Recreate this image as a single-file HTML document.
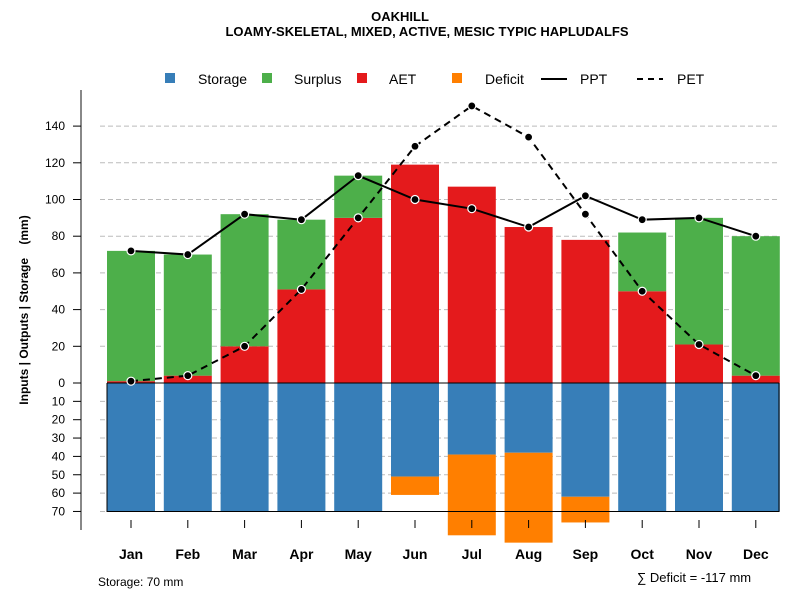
<!DOCTYPE html>
<html><head><meta charset="utf-8"><style>
body{margin:0;background:#fff}
svg text{font-family:"Liberation Sans",sans-serif}
</style></head><body>
<svg id="c" width="800" height="600" xmlns="http://www.w3.org/2000/svg">
<text x="400" y="21" text-anchor="middle" font-size="13" font-weight="bold">OAKHILL</text>
<text x="427" y="36" text-anchor="middle" font-size="13" font-weight="bold">LOAMY-SKELETAL, MIXED, ACTIVE, MESIC TYPIC HAPLUDALFS</text>
<g font-size="14">
<rect x="165" y="73" width="10" height="10" fill="#377eb8"/><text x="198" y="84">Storage</text>
<rect x="262" y="73" width="10" height="10" fill="#4daf4a"/><text x="294" y="84">Surplus</text>
<rect x="357" y="73" width="10" height="10" fill="#e41a1c"/><text x="389" y="84">AET</text>
<rect x="452" y="73" width="10" height="10" fill="#ff7f00"/><text x="485" y="84">Deficit</text>
<line x1="541" y1="79" x2="567" y2="79" stroke="#000" stroke-width="2"/><text x="580" y="84">PPT</text>
<line x1="637" y1="79" x2="663" y2="79" stroke="#000" stroke-width="2" stroke-dasharray="6,5"/><text x="677" y="84">PET</text>
</g>
<text transform="translate(28,310) rotate(-90)" text-anchor="middle" font-size="12" font-weight="bold" xml:space="preserve">Inputs | Outputs | Storage    (mm)</text>
<text x="98" y="586" font-size="12">Storage: 70 mm</text>
<text x="637" y="582" font-size="13">∑ Deficit = -117 mm</text>
<g id="g"></g>
</svg>
<script>
const months=["Jan","Feb","Mar","Apr","May","Jun","Jul","Aug","Sep","Oct","Nov","Dec"];
const ppt=[72,70,92,89,113,100,95,85,102,89,90,80];
const pet=[1,4,20,51,90,129,151,134,92,50,21,4];
const aet=[1,4,20,51,90,119,107,85,78,50,21,4];
const surplus=[71,66,72,38,23,0,0,0,0,32,69,76];
const storage=[70,70,70,70,70,51,39,38,62,70,70,70];
const deficit=[0,0,0,0,0,10,44,49,14,0,0,0];
const upTicks=[0,20,40,60,80,100,120,140];
const downTicks=[10,20,30,40,50,60,70];
const NS="http://www.w3.org/2000/svg";
const g=document.getElementById('g');
const y0=383,k=1.835;
const y=v=>y0-v*k;
const x=i=>131+i*56.8;
const bw=48;
function el(t,a){const e=document.createElementNS(NS,t);for(const n in a)e.setAttribute(n,a[n]);g.appendChild(e);return e;}
upTicks.concat(downTicks.map(v=>-v)).forEach(v=>{
 if(v===0)return;
 const l=el('line',{x1:100,x2:780,y1:y(v),y2:y(v),stroke:'#bbb','stroke-dasharray':'5,3'});
 
 
});
const ax=el('line',{x1:81,x2:81,y1:90,y2:530,stroke:'#888','stroke-width':2});


upTicks.forEach(v=>{
 const t=el('line',{x1:73,x2:81,y1:y(v),y2:y(v),stroke:'#000'});
 
 
 const tx=el('text',{x:65,y:y(v)+4,'text-anchor':'end','font-size':12});tx.textContent=v;
 
 
});
downTicks.forEach(v=>{
 const t=el('line',{x1:73,x2:81,y1:y(-v),y2:y(-v),stroke:'#000'});
 
 
 const tx=el('text',{x:65,y:y(-v)+4,'text-anchor':'end','font-size':12});tx.textContent=v;
 
 
});
months.forEach((m,i)=>{
 const cx=x(i),l=cx-bw/2;
 const s=el('rect',{x:l,y:y0,width:bw,height:storage[i]*k,fill:'#377eb8'});
 
 
 if(deficit[i]>0){const d=el('rect',{x:l,y:y(-storage[i]),width:bw,height:deficit[i]*k,fill:'#ff7f00'});
 
 }
 const a=el('rect',{x:l,y:y(aet[i]),width:bw,height:aet[i]*k,fill:'#e41a1c'});
 
 
 if(surplus[i]>0){const su=el('rect',{x:l,y:y(aet[i]+surplus[i]),width:bw,height:surplus[i]*k,fill:'#4daf4a'});
 
 }
 const t=el('line',{x1:cx,x2:cx,y1:520,y2:528,stroke:'#000'});
 
 
 const tx=el('text',{x:cx,y:559,'text-anchor':'middle','font-size':14,'font-weight':'bold'});tx.textContent=m;
 
 
});
const zl=el('line',{x1:107,x2:779,y1:y0,y2:y0,stroke:'#000'});


const bx=el('path',{d:`M107,${y0}V${y(-70)}H779V${y0}`,fill:'none',stroke:'#000'});


function line(arr,dash,name){
 const p=el('polyline',{points:arr.map((v,i)=>x(i)+','+y(v)).join(' '),fill:'none',stroke:'#000','stroke-width':2,'stroke-dasharray':dash});
 
 
 arr.forEach((v,i)=>{const c=el('circle',{cx:x(i),cy:y(v),r:4,fill:'#000',stroke:'#fff','stroke-width':1.2});
 
 });
}
line(pet,'7,5','pet');
line(ppt,'none','ppt');
</script>
</body></html>
